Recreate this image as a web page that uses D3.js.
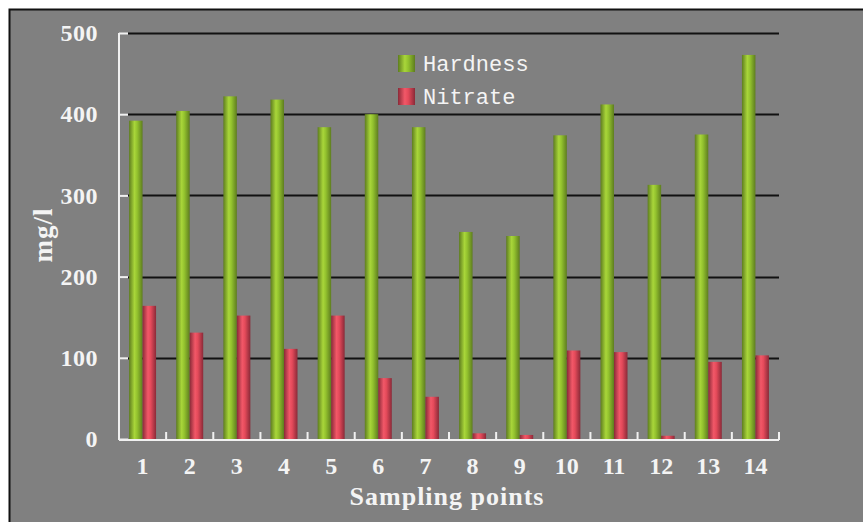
<!DOCTYPE html>
<html>
<head>
<meta charset="utf-8">
<script src="https://cdn.jsdelivr.net/npm/d3@7"></script>
<style>
  body { margin: 0; background: #fff; }
  svg { display: block; }
</style>
</head>
<body>
<div class="chart"></div>
<script>
var categories = ["1", "2", "3", "4", "5", "6", "7", "8", "9", "10", "11", "12", "13", "14"];
var hardness = [392, 404, 422, 418, 384, 400, 384, 255, 250, 374, 412, 313, 375, 473];
var nitrate = [164, 131, 152, 111, 152, 75, 52, 7, 5, 109, 107, 4, 95, 103];
var yTicks = [0, 100, 200, 300, 400, 500];
var seriesNames = ["Hardness", "Nitrate"];

function chart() {
    var W = 863, H = 522;
    var margin = {top: 33, right: 84, bottom: 83, left: 119};
    var width = W - margin.left - margin.right;
    var height = H - margin.top - margin.bottom;

    var svg = d3.select(".chart").append("svg")
            .attr("width", W)
            .attr("height", H);

    var defs = svg.append("defs");
    function grad(id, edge, mid, light) {
        var g = defs.append("linearGradient").attr("id", id)
            .attr("x1", "0%").attr("x2", "100%").attr("y1", "0%").attr("y2", "0%");
        g.append("stop").attr("offset", "0%").attr("stop-color", edge);
        g.append("stop").attr("offset", "40%").attr("stop-color", light);
        g.append("stop").attr("offset", "60%").attr("stop-color", mid);
        g.append("stop").attr("offset", "100%").attr("stop-color", edge);
    }
    grad("gGreen", "#5e7d1f", "#93c22e", "#a9d63a");
    grad("gRed", "#8a2a38", "#e44a5a", "#f25868");

    // frame
    svg.append("rect")
        .attr("x", 9.5).attr("y", 9.5)
        .attr("width", W).attr("height", H)
        .attr("fill", "#808080")
        .attr("stroke", "#111").attr("stroke-width", 2);

    var g = svg.append("g")
        .attr("transform", "translate(" + margin.left + "," + margin.top + ")");

    var x = d3.scaleBand().domain(categories).range([0, width]);
    var y = d3.scaleLinear().domain([0, 500]).range([height, 0]);

    // grid lines
    g.selectAll(".grid").data(yTicks.filter(function (d) { return d > 0; }))
        .enter().append("line")
        .attr("x1", 9).attr("x2", width)
        .attr("y1", function (d) { return Math.round(y(d)) + 0.5; })
        .attr("y2", function (d) { return Math.round(y(d)) + 0.5; })
        .attr("stroke", "#111").attr("stroke-width", 2);

    var bw = 13.5;
    var off = (x.bandwidth() - 2 * bw) / 2;

    g.selectAll(".bar-h").data(hardness).enter().append("rect")
        .attr("x", function (d, i) { return x(categories[i]) + off; })
        .attr("y", function (d) { return y(d); })
        .attr("width", bw)
        .attr("height", function (d) { return height - y(d); })
        .attr("fill", "url(#gGreen)");

    g.selectAll(".bar-n").data(nitrate).enter().append("rect")
        .attr("x", function (d, i) { return x(categories[i]) + off + bw; })
        .attr("y", function (d) { return y(d); })
        .attr("width", bw)
        .attr("height", function (d) { return height - y(d); })
        .attr("fill", "url(#gRed)");

    var serif = "'Liberation Serif', 'DejaVu Serif', serif";

    // y axis
    var yAxis = d3.axisLeft(y).tickValues(yTicks).tickSize(-9).tickPadding(21);
    var ya = g.append("g").call(yAxis);
    ya.select(".domain").attr("stroke", "#f0f0f0").attr("stroke-width", 2).attr("d", "M0," + (height + 1) + "V0");
    ya.selectAll(".tick line").attr("stroke", "#f0f0f0").attr("stroke-width", 2);
    ya.selectAll(".tick text")
        .attr("fill", "#f4f4f4")
        .style("font-family", serif)
        .style("font-weight", "bold")
        .style("font-size", "24px")
        .style("letter-spacing", "0.5px");

    // x axis
    var xAxis = d3.axisBottom(x).tickSize(0).tickPadding(17);
    var xa = g.append("g").attr("transform", "translate(0," + (height + 1) + ")").call(xAxis);
    xa.select(".domain").attr("stroke", "#f0f0f0").attr("stroke-width", 2).attr("d", "M0,0H" + width);
    xa.selectAll(".tick text")
        .attr("fill", "#f4f4f4")
        .style("font-family", serif)
        .style("font-weight", "bold")
        .style("font-size", "24px");
    // separator ticks between categories
    xa.selectAll(".sep").data(categories.slice(1).concat(["end"]))
        .enter().append("line")
        .attr("x1", function (d, i) { return (i + 1) * x.step(); })
        .attr("x2", function (d, i) { return (i + 1) * x.step(); })
        .attr("y1", 0).attr("y2", -8)
        .attr("stroke", "#f0f0f0").attr("stroke-width", 2);

    // axis titles
    svg.append("text")
        .attr("x", 447).attr("y", 505)
        .attr("text-anchor", "middle")
        .attr("fill", "#f4f4f4")
        .style("font-family", serif)
        .style("font-weight", "bold")
        .style("font-size", "26px")
        .style("letter-spacing", "1px")
        .text("Sampling points");

    svg.append("text")
        .attr("transform", "translate(52,235) rotate(-90)")
        .attr("text-anchor", "middle")
        .attr("fill", "#f4f4f4")
        .style("font-family", serif)
        .style("font-weight", "bold")
        .style("font-size", "27px")
        .style("letter-spacing", "1px")
        .text("mg/l");

    // legend
    var legend = svg.append("g").attr("transform", "translate(398,55)");
    var fills = ["url(#gGreen)", "url(#gRed)"];
    seriesNames.forEach(function (name, i) {
        legend.append("rect")
            .attr("x", 0).attr("y", i * 33)
            .attr("width", 17).attr("height", 17)
            .attr("fill", fills[i]);
        legend.append("text")
            .attr("x", 25).attr("y", i * 33 + 16)
            .attr("fill", "#f4f4f4")
            .style("font-family", "'Liberation Mono', monospace")
            .style("font-size", "22px")
            .text(name);
    });
}

chart();
</script>
</body>
</html>
